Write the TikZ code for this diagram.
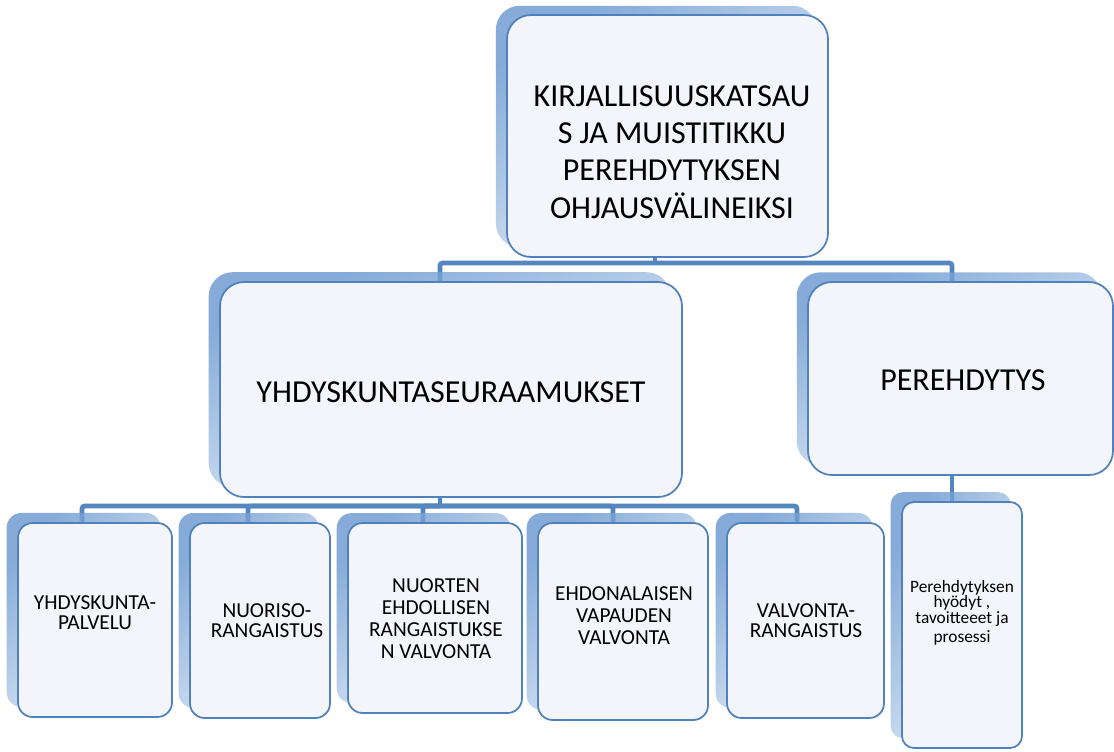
\documentclass[tikz,border=0pt]{standalone}
\usepackage{fontspec}
\setmainfont{Carlito}
\usetikzlibrary{shadows,backgrounds,fadings}
\definecolor{edgeblue}{RGB}{79,129,189}
\definecolor{connblue}{RGB}{84,134,192}
\definecolor{boxfill}{RGB}{243,245,251}
\definecolor{shadeblue}{RGB}{120,162,212}
\tikzfading[name=tlfade, top color=transparent!10, bottom color=transparent!90]
\tikzset{
  box/.style={draw=edgeblue, line width=1.3pt, fill=boxfill, inner sep=0pt, outer sep=0pt,
    general shadow={fill=shadeblue, path fading=tlfade, fading angle=40,
      shadow xshift=-8.5pt, shadow yshift=7.5pt}},
  bigbox/.style={box, rounded corners=18pt},
  smallbox/.style={box, rounded corners=11pt},
  conline/.style={draw=connblue, line width=3.6pt, rounded corners=2pt},
  bigtext/.style={align=center, font=\fontsize{24}{28}\selectfont, inner sep=0pt},
  midtext/.style={align=center, font=\fontsize{16}{15}\selectfont, inner sep=0pt},
  midtextb/.style={align=center, font=\fontsize{16}{16.5}\selectfont, inner sep=0pt},
  tinytext/.style={align=center, font=\fontsize{13}{11.5}\selectfont, inner sep=0pt}
}
\begin{document}
\begin{tikzpicture}[x=0.75pt,y=-0.75pt]
\useasboundingbox (0,0) rectangle (1114,751);

% boxes
\node[bigbox, minimum width=240.75pt, minimum height=181.5pt] (top) at (667.5,136) {};
\node[bigbox, minimum width=346.5pt, minimum height=161.25pt] (mid) at (451,389.5) {};
\node[bigbox, minimum width=228.75pt, minimum height=144.75pt] (per) at (960.5,378.5) {};
\node[smallbox, minimum width=115.5pt, minimum height=145.5pt] (b1) at (95,620) {};
\node[smallbox, minimum width=105pt, minimum height=146.25pt] (b2) at (260,620.5) {};
\node[smallbox, minimum width=130.5pt, minimum height=142.5pt] (b3) at (435,618) {};
\node[smallbox, minimum width=127.5pt, minimum height=147.75pt] (b4) at (623,621.5) {};
\node[smallbox, minimum width=117.75pt, minimum height=146.25pt] (b5) at (805.5,620.5) {};
\node[smallbox, rounded corners=9pt, minimum width=90pt, minimum height=184.5pt] (pb) at (962,625) {};

% texts
\node[bigtext] (topT) at (672,152) {KIRJALLISUUSKATSAU\\S JA MUISTITIKKU\\PEREHDYTYKSEN\\OHJAUSVÄLINEIKSI};
\node[bigtext] (midT) at (451,392) {YHDYSKUNTASEURAAMUKSET};
\node[bigtext] (perT) at (963,380) {PEREHDYTYS};
\node[midtext] (b1T) at (95,612.5) {YHDYSKUNTA-\\PALVELU};
\node[midtext] (b2T) at (267,621) {NUORISO-\\RANGAISTUS};
\node[midtextb] (b3T) at (436,619) {NUORTEN\\EHDOLLISEN\\RANGAISTUKSE\\N VALVONTA};
\node[midtextb] (b4T) at (624,616) {EHDONALAISEN\\VAPAUDEN\\VALVONTA};
\node[midtext] (b5T) at (806,621) {VALVONTA-\\RANGAISTUS};
\node[tinytext] (pbT) at (962,613) {Perehdytyksen\\hyödyt ,\\tavoitteeet ja\\[3pt]prosessi};

% connectors
\begin{scope}[on background layer]
\draw[conline] ([xshift=-9.4pt]top.south) -- ++(0,6) coordinate (jt);
\draw[conline] (jt) -| ([xshift=-8.25pt]mid.north);
\draw[conline] (jt) -| ([xshift=-6.4pt]per.north);
\draw[conline] ([xshift=-8.25pt]mid.south) -- ++(0,9) coordinate (jm);
\foreach \n/\s in {b1/-9.75pt, b2/-9pt, b3/-9pt, b4/-7.5pt, b5/-6.4pt}
  \draw[conline] (jm) -| ([xshift=\s]\n.north);
\draw[conline] ([xshift=-6.4pt]per.south) -- ([xshift=-6.4pt]per.south |- pb.north);
\end{scope}
\end{tikzpicture}
\end{document}
